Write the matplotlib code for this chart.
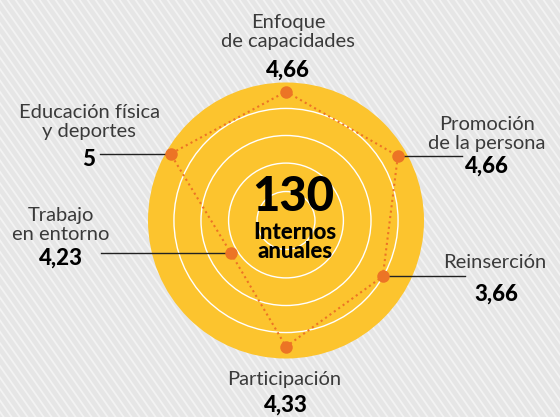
import numpy as np
import matplotlib.pyplot as plt
from matplotlib.patches import Circle

# categories, clockwise from the top
categories = ["Enfoque\nde capacidades", "Promoción\nde la persona", "Reinserción",
              "Participación", "Trabajo\nen entorno", "Educación física\ny deportes"]
# printed scores
scores = [4.66, 4.66, 3.66, 4.33, 4.23, 5]
dot_radius = [4.67, 4.68, 4.05, 4.57, 2.32, 4.83]
total = 130
total_label = "Internos\nanuales"

# colours
bg = "#e6e6e6"
stripe = "#f3f3f3"
yellow = "#fcc42e"
orange = "#ec7425"

W, H = 560, 417
CX, CY, UNIT = 286, 220.5, 27.6  # centre of the target in pixels, pixels per score unit


def P(px, py):
    # pixel position -> data coordinates
    return (px - CX) / UNIT, (CY - py) / UNIT


fig = plt.figure(figsize=(5.6, 4.17), dpi=100)
fig.patch.set_facecolor(bg)
ax = fig.add_axes([0, 0, 1, 1])
ax.set_facecolor(bg)
x0, y1 = P(0, 0)
x1, y0 = P(W, H)
ax.set_xlim(x0, x1)
ax.set_ylim(y0, y1)
ax.axis("off")

# diagonal stripes in the background
a = np.deg2rad(55)
for c in np.arange(-30, 30, 8 / UNIT):
    ax.plot([c - 30 * np.cos(a), c + 30 * np.cos(a)], [30 * np.sin(a), -30 * np.sin(a)],
            color=stripe, lw=1.3, zorder=0)

# target
ax.add_patch(Circle((0, 0), 5, fc=yellow, ec="none", zorder=2))
for r in [1.05, 2.08, 3.08, 4.06]:
    ax.add_patch(Circle((0, 0), r, fill=False, ec="white", lw=1.0, zorder=3))

# radar
theta = np.deg2rad(90 - 60 * np.arange(len(categories)))
xs = np.array(dot_radius) * np.cos(theta)
ys = np.array(dot_radius) * np.sin(theta)
ax.plot(np.append(xs, xs[0]), np.append(ys, ys[0]), color=orange, lw=1.5,
        ls=(0, (1, 1.6)), zorder=4)
ax.plot(xs, ys, "o", color=orange, ms=9, mec="none", zorder=5)

# label layout: label centre, value centre, leader line end (pixels)
layout = [
    ((288, 32), (288, 70), None),
    ((487, 134), (487, 166), 462),
    ((495, 263), (496, 294), 465),
    ((284, 380), (286, 405), None),
    ((61, 225), (61, 258), 101),
    ((89, 122), (89, 159), 100),
]

for i, (lab, val, lead) in enumerate(layout):
    ax.text(*P(*lab), categories[i], ha="center", va="center", fontsize=14.5,
            family="Lato", weight="normal", color="#3a3a3a", linespacing=1.15, zorder=6)
    s = f"{scores[i]:g}".replace(".", ",")
    ax.text(*P(*val), s, ha="center", va="center", fontsize=16,
            family="Lato", weight="black", color="black", zorder=6)
    if lead is not None:
        ax.plot([xs[i], P(lead, 0)[0]], [ys[i], ys[i]], color="#222222", lw=1.0, zorder=4.5)

# centre text
ax.text(*P(293, 197), str(total), ha="center", va="center", fontsize=34,
        family="Lato", weight="black", color="black", zorder=6)
ax.text(*P(295, 242), total_label, ha="center", va="center", fontsize=16,
        family="Lato", weight="black", color="black", linespacing=0.92, zorder=6)

fig.savefig("out.png", dpi=100, facecolor=bg)
